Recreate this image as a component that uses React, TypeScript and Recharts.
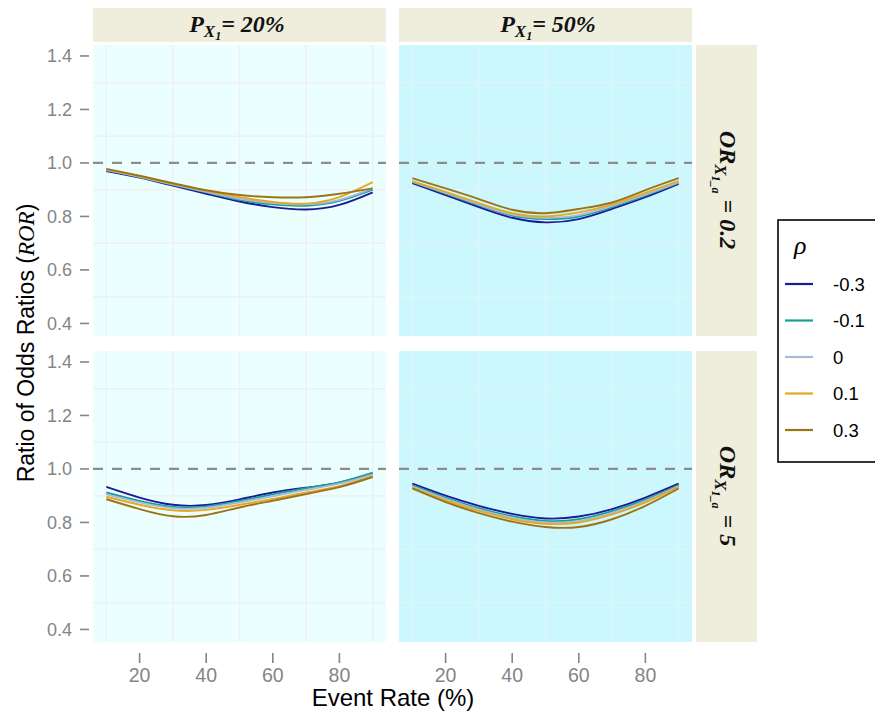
import React from 'react';
import { LineChart, Line, XAxis, YAxis, ReferenceLine, ReferenceArea } from 'recharts';

// Event rate (%) on the x axis
const eventRate = [10, 20, 30, 40, 50, 60, 70, 80, 90];

// Correlation levels (rho) and their line colours
const rhoLabels = ['-0.3', '-0.1', '0', '0.1', '0.3'];
const rhoColors = ['#1B1B96', '#1A9E99', '#A7BBD9', '#E6A823', '#9C7418'];

// ROR by rho (rows) and event rate (columns), one table per panel
const rorP20Or02 = [
  [0.970, 0.945, 0.915, 0.885, 0.856, 0.835, 0.826, 0.843, 0.890],
  [0.972, 0.947, 0.918, 0.890, 0.862, 0.845, 0.840, 0.858, 0.900],
  [0.974, 0.948, 0.920, 0.892, 0.866, 0.850, 0.845, 0.862, 0.905],
  [0.976, 0.950, 0.922, 0.896, 0.872, 0.854, 0.848, 0.872, 0.928],
  [0.978, 0.952, 0.924, 0.898, 0.880, 0.872, 0.872, 0.885, 0.905],
];
const rorP50Or02 = [
  [0.925, 0.880, 0.835, 0.795, 0.778, 0.790, 0.828, 0.872, 0.922],
  [0.928, 0.885, 0.842, 0.803, 0.790, 0.800, 0.835, 0.878, 0.926],
  [0.930, 0.888, 0.845, 0.807, 0.795, 0.805, 0.840, 0.882, 0.928],
  [0.932, 0.892, 0.850, 0.812, 0.800, 0.815, 0.845, 0.888, 0.932],
  [0.943, 0.905, 0.865, 0.825, 0.812, 0.828, 0.852, 0.898, 0.943],
];
const rorP20Or5 = [
  [0.933, 0.893, 0.866, 0.865, 0.886, 0.912, 0.930, 0.949, 0.982],
  [0.912, 0.880, 0.858, 0.860, 0.880, 0.905, 0.928, 0.950, 0.986],
  [0.905, 0.875, 0.853, 0.855, 0.875, 0.898, 0.922, 0.945, 0.980],
  [0.896, 0.866, 0.845, 0.847, 0.866, 0.888, 0.912, 0.936, 0.973],
  [0.887, 0.850, 0.823, 0.828, 0.856, 0.881, 0.906, 0.932, 0.970],
];
const rorP50Or5 = [
  [0.945, 0.900, 0.862, 0.832, 0.815, 0.822, 0.850, 0.893, 0.945],
  [0.940, 0.893, 0.853, 0.823, 0.806, 0.812, 0.842, 0.885, 0.940],
  [0.935, 0.888, 0.848, 0.818, 0.800, 0.806, 0.836, 0.880, 0.936],
  [0.930, 0.882, 0.843, 0.812, 0.795, 0.800, 0.830, 0.875, 0.933],
  [0.927, 0.876, 0.835, 0.803, 0.783, 0.783, 0.812, 0.862, 0.927],
];

// Axis ticks and grid positions
const xTicks = [20, 40, 60, 80];
const yTicks = [0.4, 0.6, 0.8, 1.0, 1.2, 1.4];
const xGrid = [10, 30, 50, 70, 90];
const yGrid = [0.5, 0.7, 0.9, 1.1, 1.3];
const xDomain: [number, number] = [6, 94];
const yDomain: [number, number] = [0.353, 1.441];

const SANS = '"Liberation Sans", Arial, Helvetica, sans-serif';
const SERIF = '"Liberation Serif", "Times New Roman", serif';
const TICK_GREY = '#858585';

const toRows = (table: number[][]) =>
  eventRate.map((x, i) => {
    const row: Record<string, number> = { x };
    table.forEach((series, k) => {
      row[`r${k}`] = series[i];
    });
    return row;
  });

const YTick = (props: any) => {
  const { x, y, payload } = props;
  return (
    <g>
      <line x1={x - 13} x2={x - 4} y1={y} y2={y} stroke={TICK_GREY} strokeWidth={1.6} />
      <text x={x - 21} y={y} dy="0.36em" textAnchor="end" fill={TICK_GREY} fontSize={18} fontFamily={SANS}>
        {Number(payload.value).toFixed(1)}
      </text>
    </g>
  );
};

const XTick = (props: any) => {
  const { x, y, payload } = props;
  return (
    <g>
      <line x1={x} x2={x} y1={y + 11} y2={y + 21} stroke={TICK_GREY} strokeWidth={1.6} />
      <text x={x} y={y + 40} textAnchor="middle" fill={TICK_GREY} fontSize={19.5} fontFamily={SANS}>
        {payload.value}
      </text>
    </g>
  );
};

type PanelProps = {
  table: number[][];
  bg: string;
  grid: string;
  width: number;
  height: number;
  showY: boolean;
  showX: boolean;
};

const Panel = ({ table, bg, grid, width, height, showY, showX }: PanelProps) => {
  const rows = toRows(table);
  return (
    <LineChart width={width} height={height} data={rows} margin={{ top: 0, right: 0, bottom: 0, left: 0 }}>
      <XAxis
        dataKey="x"
        type="number"
        domain={xDomain}
        ticks={xTicks}
        interval={0}
        allowDataOverflow
        hide={!showX}
        height={56}
        axisLine={false}
        tickLine={false}
        tickSize={0}
        tickMargin={0}
        tick={<XTick />}
      />
      <YAxis
        type="number"
        domain={yDomain}
        ticks={yTicks}
        interval={0}
        allowDataOverflow
        hide={!showY}
        width={93}
        axisLine={false}
        tickLine={false}
        tickSize={0}
        tickMargin={0}
        tick={<YTick />}
      />
      <ReferenceArea x1={xDomain[0]} x2={xDomain[1]} y1={yDomain[0]} y2={yDomain[1]} fill={bg} fillOpacity={1} stroke="none" />
      {xGrid.map((g) => (
        <ReferenceLine key={`vx${g}`} x={g} stroke={grid} strokeWidth={1.4} />
      ))}
      {yGrid.map((g) => (
        <ReferenceLine key={`hy${g}`} y={g} stroke={grid} strokeWidth={1.4} />
      ))}
      <ReferenceLine y={1} stroke="#8C8C8C" strokeWidth={2.2} strokeDasharray="10 9" />
      {rhoLabels.map((label, k) => (
        <Line
          key={label}
          dataKey={`r${k}`}
          name={label}
          type="natural"
          stroke={rhoColors[k]}
          strokeWidth={1.9}
          dot={false}
          activeDot={false}
          isAnimationActive={false}
        />
      ))}
    </LineChart>
  );
};

const StripTop = ({ cx, pct }: { cx: number; pct: string }) => (
  <text x={cx} y={32} textAnchor="middle" fontFamily={SERIF} fontWeight="bold" fontStyle="italic" fontSize={24} fill="#111">
    <tspan>P</tspan>
    <tspan fontSize={17} dy={5}>X</tspan>
    <tspan fontSize={12} dy={3}>1</tspan>
    <tspan fontSize={24} dy={-8}>{`= ${pct}`}</tspan>
  </text>
);

const StripRight = ({ cy, val }: { cy: number; val: string }) => (
  <text
    x={720}
    y={cy}
    textAnchor="middle"
    fontFamily={SERIF}
    fontWeight="bold"
    fontStyle="italic"
    fontSize={24}
    fill="#111"
    transform={`rotate(90, 720, ${cy})`}
  >
    <tspan>OR</tspan>
    <tspan fontSize={17} dy={5}>X</tspan>
    <tspan fontSize={12} dy={3}>1_a</tspan>
    <tspan fontSize={24} dy={-8}>{` = ${val}`}</tspan>
  </text>
);

export default function App() {
  const stripFill = '#EFEEDD';
  return (
    <div style={{ position: 'absolute', left: 0, top: 0, width: 875, height: 716, background: '#fff', overflow: 'hidden' }}>
      <svg width={875} height={716} style={{ position: 'absolute', left: 0, top: 0 }}>
        {/* facet strips */}
        <rect x={93} y={8} width={293} height={34} fill={stripFill} />
        <rect x={399} y={8} width={293} height={34} fill={stripFill} />
        <rect x={696} y={45} width={61} height={291} fill={stripFill} />
        <rect x={696} y={351} width={61} height={291} fill={stripFill} />
        <StripTop cx={237} pct="20%" />
        <StripTop cx={548} pct="50%" />
        <StripRight cy={190} val="0.2" />
        <StripRight cy={496} val="5" />

        {/* axis titles */}
        <text
          x={34}
          y={343}
          textAnchor="middle"
          fontFamily={SANS}
          fontSize={23}
          fill="#000"
          transform="rotate(-90, 34, 343)"
        >
          <tspan>Ratio of Odds Ratios (</tspan>
          <tspan fontFamily={SERIF} fontStyle="italic">ROR</tspan>
          <tspan>)</tspan>
        </text>
        <text x={393} y={706} textAnchor="middle" fontFamily={SANS} fontSize={24} fill="#000">
          Event Rate (%)
        </text>

        {/* legend */}
        <rect x={778} y={220} width={110} height={242} fill="#fff" stroke="#000" strokeWidth={1.6} />
        <text x={794} y={254} fontFamily={SERIF} fontStyle="italic" fontSize={26} fill="#000">ρ</text>
        {rhoLabels.map((label, k) => {
          const ly = 284 + k * 36.5;
          return (
            <g key={label}>
              <line x1={785} x2={813} y1={ly} y2={ly} stroke={rhoColors[k]} strokeWidth={2.2} />
              <text x={833} y={ly} dy="0.36em" fontFamily={SANS} fontSize={18.5} fill="#000">
                {label}
              </text>
            </g>
          );
        })}
      </svg>

      <div style={{ position: 'absolute', left: 0, top: 45 }}>
        <Panel table={rorP20Or02} bg="#EBFFFF" grid="#F0EFF4" width={386} height={291} showY showX={false} />
      </div>
      <div style={{ position: 'absolute', left: 399, top: 45 }}>
        <Panel table={rorP50Or02} bg="#CCF8FD" grid="#DDF5F9" width={293} height={291} showY={false} showX={false} />
      </div>
      <div style={{ position: 'absolute', left: 0, top: 351 }}>
        <Panel table={rorP20Or5} bg="#EBFFFF" grid="#F0EFF4" width={386} height={347} showY showX />
      </div>
      <div style={{ position: 'absolute', left: 399, top: 351 }}>
        <Panel table={rorP50Or5} bg="#CCF8FD" grid="#DDF5F9" width={293} height={347} showY={false} showX />
      </div>
    </div>
  );
}
